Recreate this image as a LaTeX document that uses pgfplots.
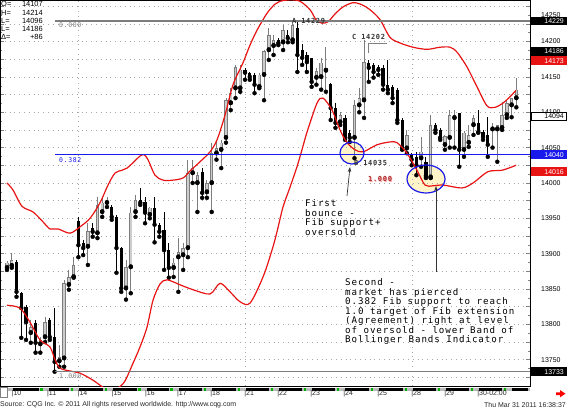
\documentclass[border=0pt]{standalone}
\usepackage{pgfplots}
\pgfplotsset{compat=1.18}
\usepackage{pgfplotstable}
\usetikzlibrary{arrows.meta}
\usepackage{fontspec}
\setmainfont{Liberation Sans}
\newfontfamily\monof[LetterSpace=10]{DejaVu Sans Mono}
\newcommand\annf{\monof\fontsize{9.2}{9.6}\selectfont}
\newcommand\smf{\fontsize{7}{8}\selectfont}
\definecolor{cqgred}{RGB}{232,20,20}
\definecolor{cqgblue}{RGB}{25,25,235}
\definecolor{upfill}{RGB}{205,205,205}
\definecolor{upedge}{RGB}{125,125,125}
\definecolor{fibgray}{RGB}{125,125,125}
\definecolor{pale}{RGB}{255,245,200}
\definecolor{darkred}{RGB}{170,35,35}

% up candles: index, open, high, low, close
\pgfplotstableread{
i O H L C
0 13880 13889 13877 13887
1 13883 13901 13880 13891
5 13788 13806 13774 13796
7 13772 13782 13760 13778
8 13782 13810 13775 13803
11 13748 13771 13740 13754
12 13752 13863 13740 13858
13 13856 13877 13849 13867
14 13867 13895 13866 13884
17 13910 13943 13884 13932
19 13929 13980 13922 13969
20 13959 13979 13952 13972
21 13972 13980 13966 13975
25 13851 13891 13835 13881
26 13881 13966 13844 13958
27 13959 13983 13952 13976
30 13955 13966 13950 13965
35 13880 13894 13867 13887
36 13895 13922 13846 13902
37 13898 13915 13877 13908
38 13908 14033 13895 14014
39 14014 14033 14000 14021
40 14000 14016 13959 14011
42 13987 14004 13979 14000
43 14000 14057 13959 14042
44 14042 14061 14033 14049
45 14047 14061 14021 14057
46 14064 14120 14057 14117
47 14113 14134 14103 14127
48 14134 14167 14120 14164
49 14134 14167 14129 14160
53 14136 14156 14134 14153
54 14153 14188 14117 14186
55 14188 14219 14174 14209
56 14194 14209 14181 14202
58 14199 14223 14188 14216
60 14202 14226 14199 14223
65 14149 14163 14139 14158
66 14150 14177 14132 14170
67 14159 14192 14129 14163
70 14086 14100 14082 14096
73 14064 14117 14035 14110
74 14110 14134 14100 14120
75 14117 14202 14092 14171
84 14049 14075 14042 14068
87 14035 14065 14023 14044
89 14008 14096 14007 14082
92 14054 14068 14047 14066
93 14064 14103 14050 14096
94 14092 14103 14050 14096
96 14047 14073 14037 14071
97 14057 14082 14051 14068
98 14082 14096 14068 14092
102 14076 14085 14050 14079
103 14076 14082 14030 14082
104 14078 14115 14075 14096
105 14096 14117 14092 14113
106 14110 14120 14093 14120
107 14120 14148 14107 14132
}\upc

% down candles
\pgfplotstableread{
i O H L C
2 13888 13891 13839 13846
3 13844 13846 13781 13823
4 13825 13827 13778 13803
6 13802 13806 13760 13774
9 13806 13809 13778 13782
10 13782 13823 13733 13747
15 13946 13952 13895 13912
16 13915 13919 13898 13908
18 13936 13943 13924 13931
22 13966 13969 13948 13952
23 13952 13955 13873 13908
24 13908 13909 13846 13851
28 13976 13993 13969 13972
29 13973 13980 13943 13958
31 13965 13980 13916 13941
32 13941 13943 13924 13931
33 13934 13959 13877 13905
34 13905 13915 13866 13880
41 14016 14021 13979 13986
50 14160 14163 14146 14156
51 14156 14157 14146 14150
52 14153 14156 14127 14139
57 14202 14205 14195 14198
59 14209 14216 14199 14205
61 14219 14229 14157 14181
62 14188 14197 14167 14177
63 14181 14185 14157 14171
64 14177 14177 14136 14143
68 14140 14141 14089 14106
69 14106 14113 14078 14085
71 14092 14096 14061 14065
72 14071 14075 14058 14064
76 14170 14174 14143 14163
77 14167 14170 14149 14157
78 14164 14167 14153 14160
79 14163 14167 14132 14139
80 14139 14174 14127 14132
81 14136 14139 14113 14120
82 14132 14134 14085 14089
83 14089 14092 14047 14050
85 14040 14042 14025 14033
86 14037 14044 14011 14025
88 14030 14037 14007 14010
90 14082 14085 14071 14075
91 14075 14078 14061 14064
95 14099 14099 14023 14047
99 14085 14103 14071 14072
100 14072 14075 14061 14065
101 14068 14093 14037 14054
}\dnc

% upper Bollinger band
\pgfplotstableread{
i P
0.00 14000
1.26 13990
3.15 13967
5.46 13959
7.56 13945
9.03 13935
10.71 13935
13.24 13929
15.34 13938
17.44 13950
19.54 13972
21.22 13997
22.69 14014
24.16 14018
25.21 14021
26.68 14030
27.94 14038
28.78 14040
29.62 14033
31.09 14011
32.77 14004
34.87 14004
36.97 14007
38.45 14017
40.55 14030
42.65 14044
44.12 14061
45.80 14096
47.48 14139
49.58 14170
51.05 14195
52.52 14216
54.62 14240
56.30 14253
57.35 14257
59.45 14259
61.55 14257
63.66 14245
64.92 14231
66.18 14226
67.44 14228
68.91 14239
70.59 14249
72.69 14255
74.58 14252
76.26 14245
78.36 14231
80.46 14206
82.56 14198
85.29 14192
88.24 14189
90.97 14192
93.07 14192
94.54 14185
96.64 14164
98.74 14136
100.84 14109
102.52 14107
104.20 14113
105.67 14122
106.93 14131
}\ubb

% lower Bollinger band
\pgfplotstableread{
i P
0.00 13827
2.73 13823
4.83 13803
6.93 13778
9.03 13768
10.08 13750
11.13 13738
13.24 13734
15.34 13731
18.07 13721
20.17 13711
21.64 13707
23.32 13710
24.79 13720
26.47 13745
27.94 13768
29.41 13796
30.67 13834
32.14 13857
33.61 13863
36.34 13856
39.08 13849
42.65 13843
44.75 13858
46.85 13846
48.95 13832
51.05 13830
53.78 13867
55.67 13905
56.72 13931
57.98 13966
59.45 13994
60.92 14023
61.97 14047
63.03 14072
65.13 14113
66.39 14120
68.28 14103
69.96 14075
71.43 14057
73.11 14047
74.79 14044
77.73 14054
80.46 14058
81.93 14057
84.03 14042
86.13 14018
87.82 13997
89.50 13996
91.60 13997
95.59 13993
97.90 14000
101.05 14016
104.00 14018
106.93 14025
}\lbb

\begin{document}
\begin{tikzpicture}[x=1bp,y=1bp]
\path[use as bounding box] (0,-24) rectangle (567,386);
% pale fill of the two highlight ellipses (behind the bars)
\fill[pale] (352,233) ellipse [x radius=12, y radius=11];
\fill[pale] (426,207) ellipse [x radius=19, y radius=14];
\begin{axis}[at={(0,0)}, anchor=south west, scale only axis,
  width=530bp, height=386bp,
  xmin=-1.4706, xmax=109.87, ymin=13712.8, ymax=14258.8,
  clip mode=individual,
  axis line style={line width=0.6bp, black},
  xtick={15,50,85.08}, xticklabels={}, xtick style={draw=none},
  xmajorgrids, ymajorgrids,
  grid style={dash pattern=on 0.8bp off 4bp, gray!70, line width=0.7bp},
  ytick={13725,13750,...,14250},
  yticklabels={,13750,,13800,,13850,,13900,,13950,,14000,,14050,,14100,,14150,,14200,,},
  scaled y ticks=false,
  yticklabel pos=right, ytick pos=both,
  minor y tick num=1,
  ytick style={gray, line width=0.5bp},
  major tick length=4bp, minor tick length=2.5bp,
  yticklabel style={anchor=west, inner sep=0pt, xshift=11bp, font=\smf},
]
% up candles: wick, outline, inner fill
\addplot[only marks, mark=none, forget plot, error bars/.cd, y dir=plus, y explicit, error mark=none,
  error bar style={draw=upedge, line width=0.9bp}]
  table[x=i, y=L, y error expr=\thisrow{H}-\thisrow{L}] {\upc};
\addplot[only marks, mark=none, forget plot, error bars/.cd, y dir=plus, y explicit, error mark=none,
  error bar style={draw=upedge, line width=3.4bp}]
  table[x=i, y=O, y error expr=\thisrow{C}-\thisrow{O}] {\upc};
\addplot[only marks, mark=none, forget plot, error bars/.cd, y dir=plus, y explicit, error mark=none,
  error bar style={draw=upfill, line width=1.6bp}]
  table[x=i, y expr=\thisrow{O}+0.9, y error expr=\thisrow{C}-\thisrow{O}-1.8] {\upc};
% down candles
\addplot[only marks, mark=none, forget plot, error bars/.cd, y dir=plus, y explicit, error mark=none,
  error bar style={draw=black, line width=0.9bp}]
  table[x=i, y=L, y error expr=\thisrow{H}-\thisrow{L}] {\dnc};
\addplot[only marks, mark=none, forget plot, error bars/.cd, y dir=plus, y explicit, error mark=none,
  error bar style={draw=black, line width=3.2bp}]
  table[x=i, y=C, y error expr=\thisrow{O}-\thisrow{C}] {\dnc};
% Bollinger bands
\addplot[cqgred, line width=1.2bp, smooth, tension=0.5] table[x=i, y=P] {\ubb};
\addplot[cqgred, line width=1.2bp, smooth, tension=0.5] table[x=i, y=P] {\lbb};
% Fibonacci levels
\addplot[fibgray, line width=1.4bp] coordinates {(10.08,14229) (109.87,14229)};
\addplot[cqgblue, line width=1.4bp] coordinates {(10.08,14040) (109.87,14040)};
\addplot[fibgray, line width=1.4bp] coordinates {(10.08,13733) (109.87,13733)};
\end{axis}

% ellipse outlines
\draw[cqgblue, line width=1.2bp] (352,233) ellipse [x radius=12, y radius=11];
\draw[cqgblue, line width=1.2bp] (426,207) ellipse [x radius=19, y radius=14];

% header values
\begin{scope}[every node/.style={inner sep=0pt, font=\fontsize{7.5}{8}\selectfont}]
\node[anchor=west] at (1,382) {O=};   \node[anchor=east] at (43,382) {14107};
\node[anchor=west] at (1,373.3) {H=}; \node[anchor=east] at (43,373.3) {14214};
\node[anchor=west] at (1,365.3) {L=}; \node[anchor=east] at (43,365.3) {14096};
\node[anchor=west] at (1,356.7) {L=}; \node[anchor=east] at (43,356.7) {14186};
\node[anchor=west] at (1,348.7) {Δ=}; \node[anchor=east] at (43,348.7) {+86};
\end{scope}

% fib level labels
\begin{scope}[every node/.style={inner sep=0pt, anchor=west, font=\monof\fontsize{6.5}{7}\selectfont}]
\node[text=fibgray] at (59,360.5) {0.000};
\node[text=cqgblue] at (59,226) {0.382};
\node[text=fibgray] at (59,10) {1.000};
\end{scope}

% swing labels
\begin{scope}[every node/.style={inner sep=0pt, anchor=west, font=\monof\bfseries\fontsize{7}{8}\selectfont}]
\node[text=black!80] at (292,365) {A 14229};
\node[text=black!80] at (352,349) {C 14202};
\node[text=black!80] at (354,223) {B 14035};
\node[text=red!35] at (368.8,206.3) {1.000};
\node[text=darkred] at (368,207) {1.000};
\end{scope}
\draw[gray, line width=0.8bp] (387,343) -- (368,343) -- (368,333);

% comments
\node[anchor=north west, inner sep=0pt, align=left, font=\annf] at (305,186.6)
  {First\\bounce -\\Fib support+\\oversold};
\node[anchor=north west, inner sep=0pt, align=left, font=\annf] at (345,107.6)
  {Second -\\market has pierced\\0.382 Fib support to reach\\1.0 target of Fib extension\\(Agreement) right at level\\of oversold - lower Band of\\Bollinger Bands Indicator};
\draw[black!80, line width=0.7bp, -{Stealth[length=5bp,width=3.5bp]}] (347,190) -- (350,219);
\draw[black!80, line width=0.7bp, -{Stealth[length=5bp,width=3.5bp]}] (436,114) -- (436,200);

% right price boxes
\begin{scope}[every node/.style={inner sep=0pt, anchor=east, font=\smf}]
\node[anchor=west] at (541,371) {14250};
\fill[black] (530.5,360.7) rectangle (567,369.3); \node[text=white] at (564,365) {14229};
\fill[black] (530.5,330.3) rectangle (567,338.9); \node[text=white] at (564,334.6) {14186};
\fill[cqgred] (530.5,321.1) rectangle (567,329.7); \node[text=white] at (564,325.4) {14173};
\filldraw[fill=white, draw=black, line width=0.6bp] (530.8,265.4) rectangle (566.6,273.8); \node[text=black] at (564,269.6) {14094};
\fill[cqgblue] (530.5,227) rectangle (567,235.6); \node[text=white] at (564,231.3) {14040};
\fill[cqgred] (530.5,210.1) rectangle (567,218.7); \node[text=white] at (564,214.4) {14016};
\fill[black] (530.5,10) rectangle (567,18.6); \node[text=white] at (564,14.3) {13733};
\end{scope}

% session strip and dates
\fill[gray!55] (8,-2.2) rectangle (530,-5);
\draw[gray, line width=0.5bp] (0.3,-1.5) rectangle (7,-11.5);
\foreach \a/\b in {12.3/47.7, 47.7/78.3, 78.3/112.3, 112.3/145.7, 145.7/177.7, 177.7/211, 211/245, 245/278, 278/311, 311/344, 344/378, 378/412, 412/445, 445/478, 478/511}{
  \fill[black] (\a+1,-2.2) rectangle (\b-9,-5);
  \fill[green!70!black] (\b-7.5,-2.2) rectangle (\b-5,-5);
}
\fill[black] (512,-2.2) rectangle (528,-5);
\begin{scope}[every node/.style={inner sep=0pt, anchor=west, font=\smf, text=black!85}]
\foreach \a/\n in {12.3/10, 47.7/11, 78.3/14, 112.3/15, 145.7/16, 177.7/17, 211/18, 245/21, 278/22, 311/23, 344/24, 378/25, 412/28, 445/29, 478/30-02:00}{
  \node at (\a-0.8,-8) {|\n};
}
\end{scope}
\fill[red] (556,-6.3) -- (560,-6.3) -- (560,-4) -- (565.5,-7.7) -- (560,-11.4) -- (560,-9.1) -- (556,-9.1) -- cycle;

\node[anchor=west, inner sep=0pt, font=\smf, text=black!85] at (0,-19) {Source: CQG Inc. © 2011 All rights reserved worldwide. http://www.cqg.com};
\node[anchor=east, inner sep=0pt, font=\smf, text=black!85] at (566,-19) {Thu Mar 31 2011 16:38:37};
\end{tikzpicture}
\end{document}
